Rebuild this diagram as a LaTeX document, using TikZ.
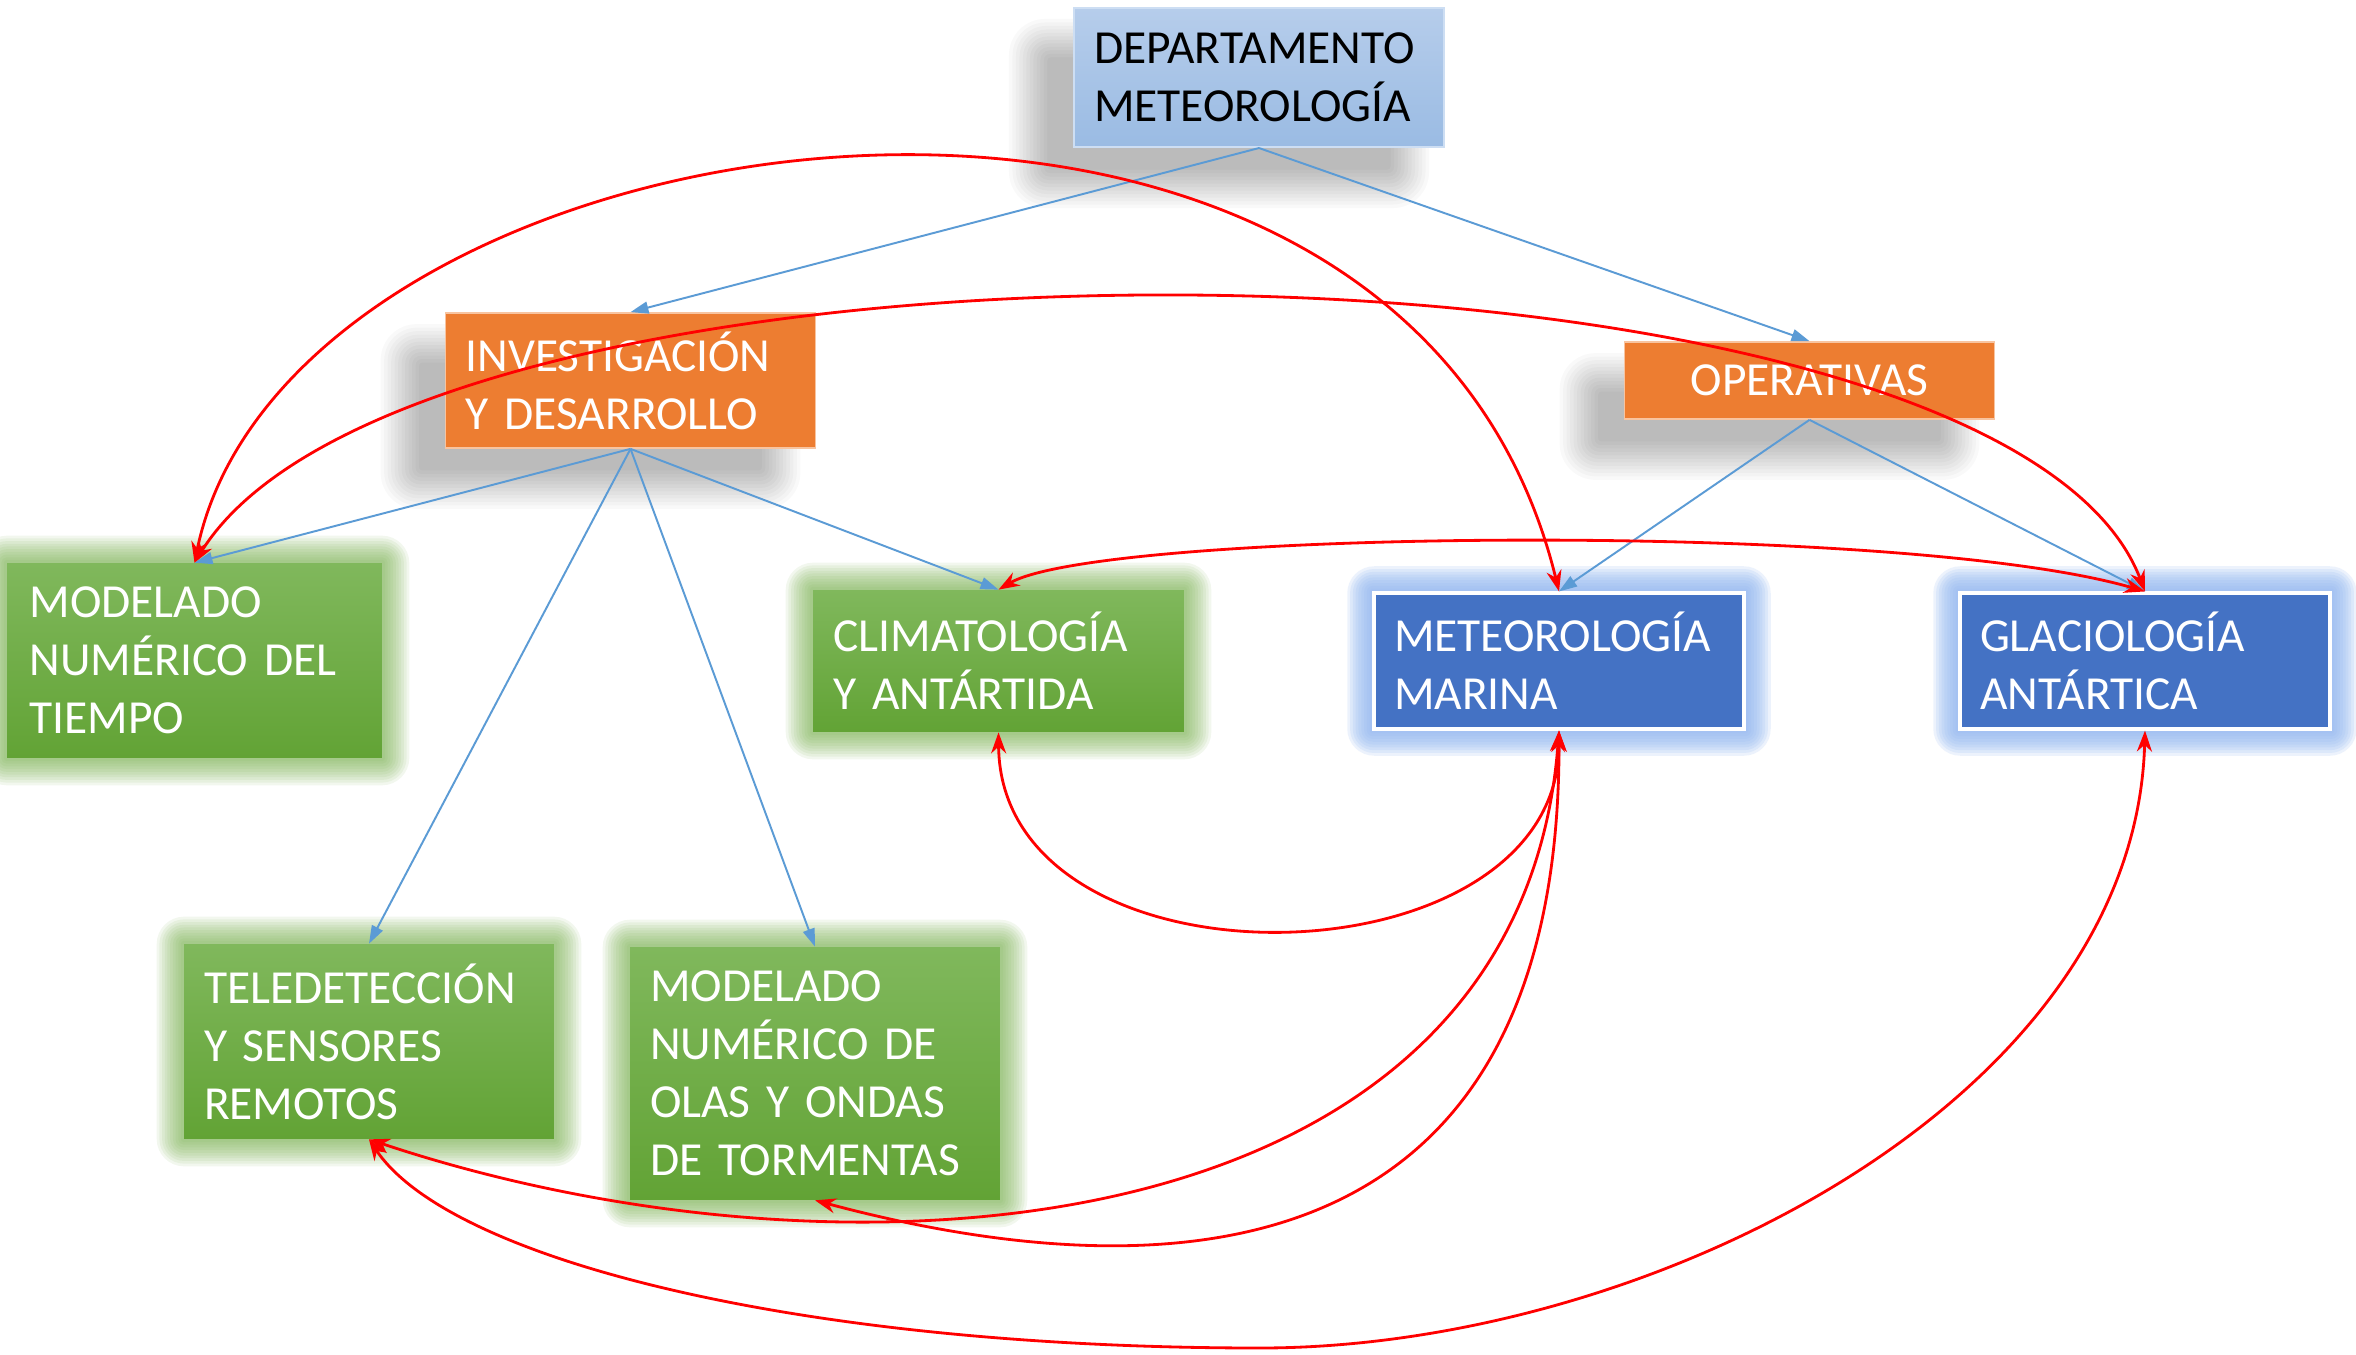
\documentclass[tikz,border=0pt]{standalone}
\usepackage{fontspec}
\setmainfont{Carlito}
\usetikzlibrary{arrows.meta,calc,backgrounds}

\definecolor{deptblue}{RGB}{154,187,227}
\definecolor{deptlight}{RGB}{182,205,235}
\definecolor{deptedge}{RGB}{205,222,243}
\definecolor{invorange}{RGB}{237,125,49}
\definecolor{orangeedge}{RGB}{248,196,160}
\definecolor{leafgreen}{RGB}{128,184,92}
\definecolor{leafdark}{RGB}{98,163,53}
\definecolor{glowgreen}{RGB}{112,173,71}
\definecolor{seablue}{RGB}{68,114,196}
\definecolor{glowblue}{RGB}{146,183,242}
\definecolor{linkblue}{RGB}{91,155,213}

\tikzset{
  box/.style={minimum width=7.36cm, minimum height=2.72cm, inner xsep=0.4cm,
    text width=6.6cm, align=left, text=white, font=\fontsize{27}{33}\selectfont},
  deptbox/.style={box, top color=deptlight, bottom color=deptblue, draw=deptedge,
    line width=1.2pt, text=black},
  orangebox/.style={box, fill=invorange, draw=orangeedge, line width=1pt},
  greenbox/.style={box, top color=leafgreen, bottom color=leafdark},
  bluebox/.style={box, fill=seablue, draw=white, line width=1.8pt},
  bluelink/.style={draw=linkblue, line width=1.1pt, -{Triangle[length=0.36cm,width=0.24cm]}},
  redlink/.style={draw=red, line width=1.6pt,
    {Stealth[length=0.42cm,width=0.3cm]}-{Stealth[length=0.42cm,width=0.3cm]}}
}

\begin{document}
\begin{tikzpicture}[x=0.02cm,y=-0.02cm]
\useasboundingbox (0,0) rectangle (2356,1355);

% top of the tree
\draw (1259,77.5) node[deptbox, minimum height=2.78cm] (dept) {DEPARTAMENTO\\METEOROLOGÍA};
\draw (630.5,380.5) node[orangebox, minimum height=2.7cm] (inv) {INVESTIGACIÓN\\Y DESARROLLO};
\draw (1809.5,380.5) node[orangebox, minimum height=1.54cm, align=center] (oper) {OPERATIVAS};

% research groups
\draw (194.5,660.5) node[greenbox, minimum width=7.5cm, minimum height=3.9cm] (mnt) {MODELADO\\NUMÉRICO DEL\\TIEMPO};
\draw (998.5,661) node[greenbox, minimum width=7.42cm, minimum height=2.84cm] (clim) {CLIMATOLOGÍA\\Y ANTÁRTIDA};
\draw (369,1041.5) node[greenbox, minimum height=3.9cm] (tele) {TELEDETECCIÓN\\Y SENSORES\\REMOTOS};
\draw (815,1073.5) node[greenbox, minimum width=7.4cm, minimum height=5.06cm] (olas) {MODELADO\\NUMÉRICO DE\\OLAS Y ONDAS\\DE TORMENTAS};

% operational groups
\draw (1559,661) node[bluebox] (metmar) {METEOROLOGÍA\\MARINA};
\draw (2145,661) node[bluebox] (glac) {GLACIOLOGÍA\\ANTÁRTICA};

% glow and shadows
\begin{scope}[on background layer]
\fill[white] (0,0) rectangle (2356,1355);
\foreach \n in {dept,inv,oper}
  \foreach \k in {12,11,...,1}
    \fill[black, fill opacity=0.023, rounded corners={\k*0.06cm}]
      ($(\n.north west)+(-40+18-3.5*\k,36+18-3.5*\k)$) rectangle ($(\n.south east)+(-40-18+3.5*\k,36-18+3.5*\k)$);
\foreach \n in {mnt,clim,tele,olas}
  \foreach \k in {10,9,...,1}
    \fill[glowgreen, fill opacity=0.09, rounded corners={\k*0.055cm}]
      ($(\n.north west)+(-2.7*\k,-2.7*\k)$) rectangle ($(\n.south east)+(2.7*\k,2.7*\k)$);
\foreach \n in {metmar,glac}
  \foreach \k in {9,8,...,1}
    \fill[glowblue, fill opacity=0.17, rounded corners={\k*0.06cm}]
      ($(\n.north west)+(-2.8*\k,-2.8*\k)$) rectangle ($(\n.south east)+(2.8*\k,2.8*\k)$);
\end{scope}

% hierarchy
\draw[bluelink] (dept.south) -- (inv.north);
\draw[bluelink] (dept.south) -- (oper.north);
\draw[bluelink] (inv.south) -- (mnt.north);
\draw[bluelink] (inv.south) -- (clim.north);
\draw[bluelink] (inv.south) -- (tele.north);
\draw[bluelink] (inv.south) -- (olas.north);
\draw[bluelink] (oper.south) -- (metmar.north);
\draw[bluelink] (oper.south) -- (glac.north);

% collaborations
\draw[redlink] (mnt.north) .. controls (290,100) and (1400,-60) .. (metmar.north);
\draw[redlink] (mnt.north) .. controls (420,200) and (2000,210) .. (glac.north);
\draw[redlink] (clim.north) .. controls (1100,530) and (1900,520) .. (glac.north);
\draw[redlink] (clim.south) .. controls (1000,1000) and (1560,990) .. (metmar.south);
\draw[redlink] (metmar.south) .. controls (1520,1250) and (850,1300) .. (tele.south);
\draw[redlink] (metmar.south) .. controls (1560,1290) and (1150,1290) .. (olas.south);
\draw[redlink] (glac.south) .. controls (2135,1100) and (1650,1348) .. (1260,1348)
  .. controls (800,1348) and (450,1260) .. (tele.south);
\end{tikzpicture}
\end{document}
